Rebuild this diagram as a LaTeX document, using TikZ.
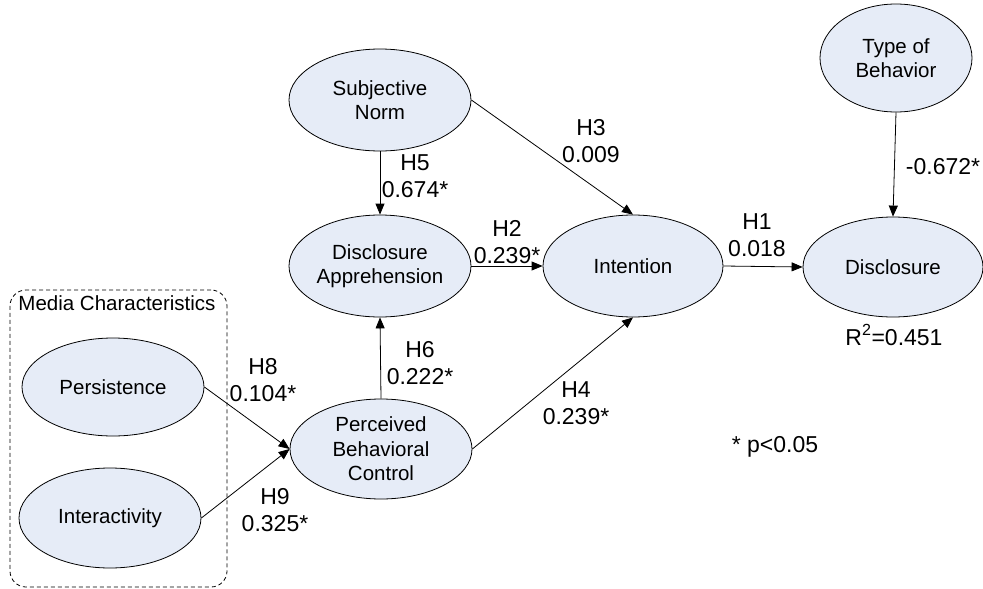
\documentclass[tikz,border=0pt]{standalone}
\usepackage{fontspec}
\setmainfont{Liberation Sans}
\usetikzlibrary{shapes.geometric,arrows.meta}
\definecolor{nodefill}{RGB}{230,236,247}
\begin{document}
\begin{tikzpicture}[x=1pt,y=-1pt,
  construct/.style={ellipse, draw, line width=0.8pt, fill=nodefill, inner sep=0pt,
    align=center, font=\fontsize{20.5}{24.5}\selectfont},
  link/.style={-{Triangle[length=11pt,width=9pt]}, line width=0.8pt},
  coef/.style={align=center, inner sep=0pt, font=\fontsize{23}{26.5}\selectfont},
  groupbox/.style={draw, line width=0.8pt, dash pattern=on 4pt off 3pt,
    rounded corners=16pt, inner sep=0pt}]
\useasboundingbox (0,0) rectangle (983,589);

% media characteristics group
\node[groupbox, minimum width=217pt, minimum height=297pt] (media) at (118.5,438.5) {};
\node[inner sep=0pt, font=\fontsize{20.5}{24.5}\selectfont] (mediatitle) at (117,303) {Media Characteristics};

% constructs
\node[construct, minimum width=182pt, minimum height=102pt] (sn)  at (380,100) {Subjective\\Norm};
\node[construct, minimum width=152pt, minimum height=108pt] (tb)  at (896,58)  {Type of\\Behavior};
\node[construct, minimum width=182pt, minimum height=102pt] (da)  at (380,266) {Disclosure\\Apprehension};
\node[construct, minimum width=180pt, minimum height=102pt] (int) at (633,266) {Intention};
\node[construct, minimum width=180pt, minimum height=100pt] (dis) at (893,267) {Disclosure};
\node[construct, minimum width=182pt, minimum height=100pt] (pbc) at (381,449) {Perceived\\Behavioral\\Control};
\node[construct, minimum width=182pt, minimum height=98pt]  (per) at (113,387) {Persistence};
\node[construct, minimum width=182pt, minimum height=100pt] (itr) at (110,518) {Interactivity};

% paths
\draw[link] (sn.south) -- (da.north);
\draw[link] (sn.east) -- (int.north);
\draw[link] (da.east) -- (int.west);
\draw[link] (int.east) -- (dis.west);
\draw[link] (tb.south) -- (dis.north);
\draw[link] (pbc.north) -- (da.south);
\draw[link] (pbc.east) -- (int.south);
\draw[link] (per.east) -- (pbc.west);
\draw[link] (itr.east) -- (pbc.west);

% path coefficients
\node[coef] (c5) at (415,176) {H5\\0.674*};
\node[coef] (c3) at (591,141) {H3\\0.009};
\node[coef] (c2) at (507,242) {H2\\0.239*};
\node[coef] (c1) at (757,235) {H1\\0.018};
\node[coef] (ctb) at (943,167) {-0.672*};
\node[coef] (c6) at (420,363) {H6\\0.222*};
\node[coef] (c4) at (576,403) {H4\\0.239*};
\node[coef] (c8) at (263,380) {H8\\0.104*};
\node[coef] (c9) at (275,510) {H9\\0.325*};
\node[coef] (r2) at (894,335) {R\textsuperscript{2}=0.451};
\node[coef] (note) at (775,447) {* p<0.05};
\end{tikzpicture}
\end{document}
